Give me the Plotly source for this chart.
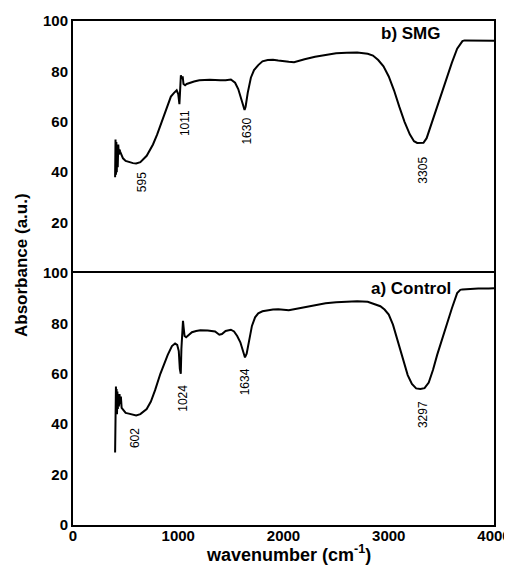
import plotly.graph_objects as go
from plotly.subplots import make_subplots

# SMG (top panel)
smg_wn = [400, 404, 408, 412, 416, 420, 425, 430, 436, 442, 450, 460, 475, 500, 530, 570, 600, 640, 700, 760, 800, 850, 890, 930, 960, 985, 1000,
          1008, 1011, 1016, 1025, 1035, 1042, 1050, 1065, 1080, 1110, 1150, 1200, 1300, 1400, 1450, 1500, 1540, 1570, 1600, 1620, 1630, 1640, 1660,
          1690, 1720, 1760, 1800, 1850, 1900, 1950, 2000, 2050, 2100, 2150, 2200, 2300, 2400, 2500, 2600, 2700, 2800, 2850, 2900, 2950, 3000, 3050,
          3100, 3150, 3200, 3240, 3270, 3300, 3330, 3360, 3400, 3450, 3500, 3550, 3600, 3650, 3680, 3700, 3720, 3800, 3900, 4000]
smg_val = [38, 53, 39, 52, 40, 50, 42, 51, 47, 49, 48, 47, 45.5, 44.5, 44, 43.6, 43.5, 44, 46.5, 51, 55, 61, 66, 70, 71.5, 72.5, 71,
           69, 67, 71, 78.5, 77, 78, 75, 74.5, 75, 75.5, 76, 76.5, 76.7, 76.5, 76.5, 76.8, 75.5, 73, 69, 66, 64.7, 66, 71.5,
           77.5, 80.5, 82.5, 84, 84.5, 84.6, 84.3, 84.2, 83.8, 83.6, 84.3, 84.8, 85.8, 86.6, 87.2, 87.4, 87.5, 87.0, 86.3, 84.5, 82, 78, 72.5,
           66, 60, 55, 52.3, 51.6, 51.5, 51.7, 53.5, 58.5, 65, 71.5, 77.5, 83.5, 89, 91, 92, 92.3, 92.2, 92.3, 92.2]

# Control (bottom panel)
ctl_wn = [400, 402, 405, 408, 411, 414, 418, 422, 426, 430, 436, 442, 448, 455, 462, 470, 480, 500, 530, 570, 600, 640, 700, 740, 780, 830,
          870, 900, 940, 970, 990, 1005, 1015, 1024, 1030, 1038, 1045, 1052, 1060, 1075, 1100, 1130, 1170, 1210, 1280, 1350, 1390, 1415, 1450,
          1500, 1530, 1560, 1590, 1615, 1634, 1650, 1670, 1700, 1730, 1760, 1800, 1850, 1900, 1950, 2000, 2050, 2100, 2150, 2200, 2300, 2400,
          2500, 2600, 2700, 2800, 2850, 2880, 2920, 2960, 3000, 3040, 3080, 3130, 3180, 3220, 3260, 3300, 3340, 3380, 3420, 3460, 3500, 3550,
          3600, 3650, 3680, 3700, 3750, 3850, 3950, 4000]
ctl_val = [28.8, 52, 45, 55, 47, 54, 44, 53, 46, 50, 47, 52, 48, 51, 46.5, 46, 45.5, 44.5, 44.2, 43.7, 43.5, 44, 46, 49, 53.5, 60,
           64.5, 67.5, 71, 72, 71.5, 69, 62, 60, 70, 79, 81, 78, 75, 74.5, 75.5, 76.5, 77, 77.3, 77.2, 76.8, 75.5, 75.8, 77,
           77.5, 76.8, 75, 72.5, 69, 66.5, 68, 73, 79, 82.4, 84, 84.8, 85.3, 85.5, 85.6, 85.3, 85.2, 85.6, 86, 86.5, 87.3, 88,
           88.4, 88.7, 88.8, 88.6, 87.8, 87.4, 86.8, 85.5, 83.5, 79.5, 74, 66.5, 59.5, 56, 54.2, 54, 54.3, 56.5, 61.5, 67.5, 73, 79.5,
           86, 92, 93.3, 93.5, 93.7, 93.8, 93.8, 93.9]

smg_peaks = [595, 1011, 1630, 3305]
smg_peak_pos = [(655, 36), (1064, 59.5), (1653, 56.5), (3325, 41)]
ctl_peaks = [602, 1024, 1634, 3297]
ctl_peak_pos = [(589, 34.5), (1045, 50.5), (1634, 57), (3325, 44)]

fig = make_subplots(rows=2, cols=1, shared_xaxes=True, vertical_spacing=0)

fig.add_trace(go.Scatter(x=smg_wn, y=smg_val, mode="lines", line=dict(color="black", width=2), showlegend=False), row=1, col=1)
fig.add_trace(go.Scatter(x=ctl_wn, y=ctl_val, mode="lines", line=dict(color="black", width=2), showlegend=False), row=2, col=1)

font = "Liberation Sans, Arial, sans-serif"
for lab, (px, py) in zip(smg_peaks, smg_peak_pos):
    fig.add_annotation(x=px, y=py, xref="x", yref="y", text=str(lab), showarrow=False, textangle=-90,
                       font=dict(family=font, size=12, color="black"))
for lab, (px, py) in zip(ctl_peaks, ctl_peak_pos):
    fig.add_annotation(x=px, y=py, xref="x2", yref="y2", text=str(lab), showarrow=False, textangle=-90,
                       font=dict(family=font, size=12, color="black"))

fig.add_annotation(x=3520, y=95, xref="x", yref="y", text="<b>b) SMG</b>", showarrow=False, xanchor="right",
                   yanchor="middle", font=dict(family=font, size=17, color="black"))
fig.add_annotation(x=3615, y=94, xref="x2", yref="y2", text="<b>a) Control</b>", showarrow=False, xanchor="right",
                   yanchor="middle", font=dict(family=font, size=17, color="black"))

axis_common = dict(showline=True, linecolor="black", linewidth=2, mirror=True, showgrid=False, zeroline=False,
                   ticks="", automargin=False, tickfont=dict(family=font, size=15, color="black", weight="bold"))

fig.update_xaxes(range=[0, 4000], tickvals=[0, 1000, 2000, 3000, 4000], **axis_common)
fig.update_xaxes(showticklabels=False, side="top", mirror=False, row=1, col=1)
fig.update_xaxes(ticklabelstandoff=-4, row=2, col=1)
fig.update_yaxes(range=[0, 100], **axis_common)
fig.update_yaxes(tickvals=[20, 40, 60, 80, 100], row=1, col=1)
fig.update_yaxes(tickvals=[0, 20, 40, 60, 80, 100], row=2, col=1)

fig.add_annotation(x=-0.121, y=0.516, xref="paper", yref="paper", text="<b>Absorbance (a.u.)</b>", showarrow=False,
                   xanchor="center", yanchor="middle", textangle=-90, font=dict(family=font, size=17, color="black"))
fig.add_annotation(x=0.513, y=-0.056, xref="paper", yref="paper", text="<b>wavenumber (cm<sup>-1</sup>)</b>",
                   showarrow=False, xanchor="center", yanchor="middle", font=dict(family=font, size=18, color="black"))

fig.update_layout(width=512, height=569, margin=dict(l=65, r=26, t=13, b=52),
                  plot_bgcolor="white", paper_bgcolor="white", font=dict(family=font, color="black"))

fig.write_html("out.html")
